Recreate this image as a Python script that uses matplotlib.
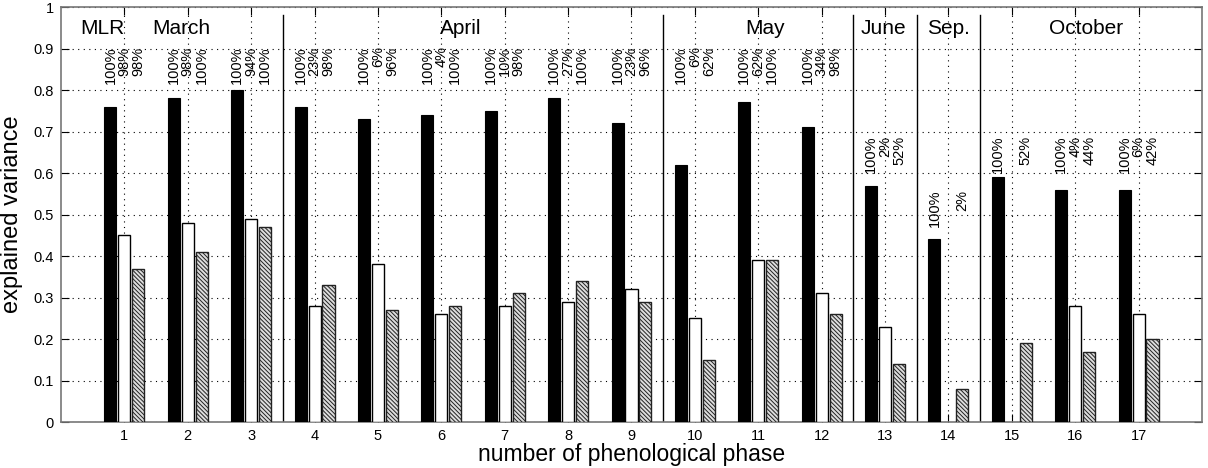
import numpy as np
import matplotlib.pyplot as plt

# explained variance per phenological phase
phases = np.arange(1, 18)
mlr_var = [0.76, 0.78, 0.80, 0.76, 0.73, 0.74, 0.75, 0.78, 0.72, 0.62, 0.77, 0.71, 0.57, 0.44, 0.59, 0.56, 0.56]
white_var = [0.45, 0.48, 0.49, 0.28, 0.38, 0.26, 0.28, 0.29, 0.32, 0.25, 0.39, 0.31, 0.23, 0.0, 0.0, 0.28, 0.26]
hatch_var = [0.37, 0.41, 0.47, 0.33, 0.27, 0.28, 0.31, 0.34, 0.29, 0.15, 0.39, 0.26, 0.14, 0.08, 0.19, 0.17, 0.20]

# percentage labels above the bars
mlr_pct = ['100%'] * 17
white_pct = ['98%', '98%', '94%', '23%', '6%', '4%', '10%', '27%', '23%', '6%', '62%', '34%', '2%', '', '', '4%', '6%']
hatch_pct = ['98%', '100%', '100%', '98%', '96%', '100%', '98%', '100%', '96%', '62%', '100%', '98%', '52%', '2%', '52%', '44%', '42%']

# month headers
months = ['MLR', 'March', 'April', 'May', 'June', 'Sep.', 'October']
month_x = [0.65, 1.9, 6.3, 11.1, 12.97, 14.0, 16.17]
month_bounds = [3.5, 9.5, 12.5, 13.5, 14.5]

# top of the rotated labels (layout)
label_top = [0.905] * 12 + [0.69, 0.56, 0.69, 0.69, 0.69]

plt.rcParams['font.family'] = ['Liberation Sans', 'DejaVu Sans']
plt.rcParams['hatch.linewidth'] = 0.7
plt.rcParams['hatch.color'] = '#222222'

fig = plt.figure(figsize=(12.08, 4.68), dpi=100)
ax = fig.add_axes([0.0505, 0.098, 0.9445, 0.887])

off = 0.22
w = 0.19
ax.bar(phases - off, mlr_var, w, color='black', edgecolor='black', linewidth=0.8, zorder=3)
for p, v in zip(phases, white_var):
    if v > 0:
        ax.bar(p, v, w, color='white', edgecolor='black', linewidth=1.0, zorder=3)
ax.bar(phases + off, hatch_var, w, color='#dddddd', edgecolor='#222222', linewidth=1.0,
       hatch='\\\\\\\\\\\\\\\\', zorder=3)

for i, p in enumerate(phases):
    for dx, txt in zip((-off, 0, off), (mlr_pct[i], white_pct[i], hatch_pct[i])):
        if txt:
            ax.text(p + dx, label_top[i], txt, rotation=90, ha='center', va='top',
                    fontsize=10.5, zorder=4)

for xb in month_bounds:
    ax.plot([xb, xb], [0, 0.98], color='black', linewidth=1.0, zorder=2)

for name, mx in zip(months, month_x):
    ax.text(mx, 0.949, name, ha='center', va='center', fontsize=15)

ax.set_xlim(0, 18)
ax.set_ylim(0, 1)
ax.set_xticks(phases)
ax.set_yticks(np.arange(0, 1.01, 0.1))
ax.set_yticklabels(['0'] + ['%.1f' % t for t in np.arange(0.1, 0.95, 0.1)] + ['1'])
ax.tick_params(direction='in', length=6, width=0.8, top=True, right=True, labelsize=10.5, pad=5)
ax.grid(True, linestyle=(0, (1, 4)), color='black', linewidth=0.8, zorder=1)
for s in ax.spines.values():
    s.set_color('#777777')
    s.set_linewidth(1.2)

ax.set_xlabel('number of phenological phase', fontsize=16.5, labelpad=0)
ax.set_ylabel('explained variance', fontsize=17, labelpad=8)

fig.savefig('out.png', dpi=100)
